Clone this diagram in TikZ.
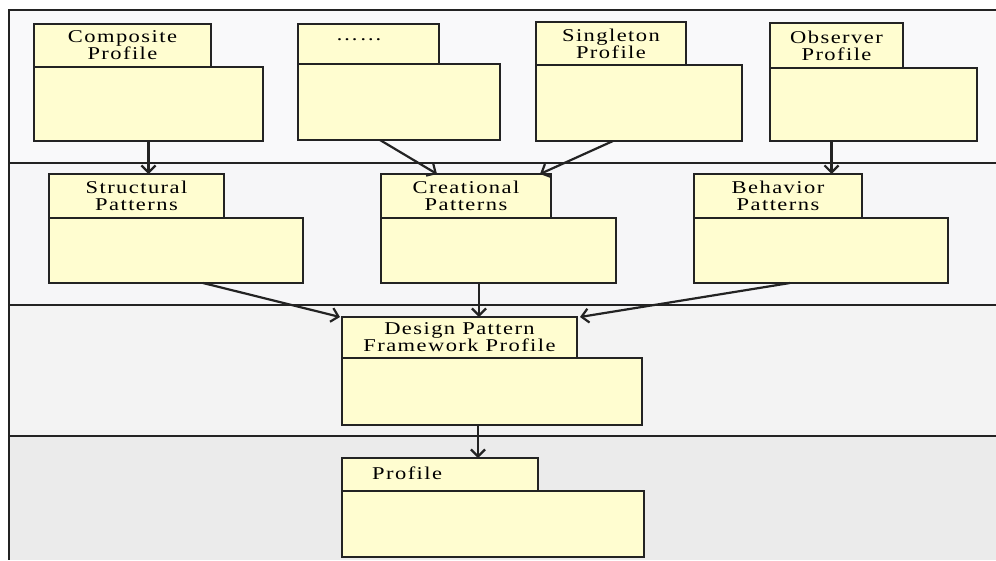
\documentclass[tikz,border=0pt]{standalone}
\usepackage{fontspec}
\setmainfont{Liberation Serif}[FakeStretch=1.25, LetterSpace=8]
\usetikzlibrary{arrows.meta}
\definecolor{pkgfill}{RGB}{255,253,208}
\definecolor{pkgline}{RGB}{35,35,35}
\definecolor{bandA}{RGB}{249,249,250}
\definecolor{bandB}{RGB}{246,246,248}
\definecolor{bandC}{RGB}{243,243,243}
\definecolor{bandD}{RGB}{235,235,235}
\begin{document}
\begin{tikzpicture}[x=1pt,y=-1pt,
  pkg/.style={draw=pkgline, fill=pkgfill, line width=1.6pt, inner sep=0pt, outer sep=0pt,
    anchor=north west, align=center, text=black, font=\fontsize{18}{17}\selectfont},
  pkgtext/.style={inner sep=0pt, text=black, font=\fontsize{18}{17}\selectfont},
  dep/.style={draw=pkgline, line width=2.2pt, -{Straight Barb[length=7pt,width=14pt]}},
  frameline/.style={draw=pkgline, line width=1.5pt}]
\useasboundingbox (0,0) rectangle (996,560);
\fill[white] (0,0) rectangle (996,560);
% swim-lane bands
\fill[bandA] (9,10) rectangle (996,163);
\fill[bandB] (9,163) rectangle (996,305);
\fill[bandC] (9,305) rectangle (996,436);
\fill[bandD] (9,436) rectangle (996,560);
\draw[frameline] (996,10) -- (9,10) -- (9,560);
\draw[frameline] (9,163) -- (996,163);
\draw[frameline] (9,305) -- (996,305);
\draw[frameline] (9,436) -- (996,436);

% top row: concrete pattern profiles
\node[pkg, minimum width=177pt, minimum height=43pt] (comptab) at (34,24) {Composite\\Profile};
\node[pkg, minimum width=229pt, minimum height=74pt] (compbody) at (34,67) {};
\node[pkg, minimum width=141pt, minimum height=40pt] (dotstab) at (298,24) {};
\node[pkg, minimum width=202pt, minimum height=76pt] (dotsbody) at (298,64) {};
\node[pkgtext, anchor=base] (dotstext) at (359,40) {……};
\node[pkg, minimum width=150pt, minimum height=43pt] (singtab) at (536,22) {Singleton\\Profile};
\node[pkg, minimum width=206pt, minimum height=76pt] (singbody) at (536,65) {};
\node[pkg, minimum width=133pt, minimum height=45pt] (obstab) at (770,23) {Observer\\Profile};
\node[pkg, minimum width=207pt, minimum height=73pt] (obsbody) at (770,68) {};

% second row: pattern categories
\node[pkg, minimum width=175pt, minimum height=44pt] (structab) at (49,174) {Structural\\Patterns};
\node[pkg, minimum width=254pt, minimum height=65pt] (strucbody) at (49,218) {};
\node[pkg, minimum width=170pt, minimum height=44pt] (creatab) at (381,174) {Creational\\Patterns};
\node[pkg, minimum width=235pt, minimum height=65pt] (creabody) at (381,218) {};
\node[pkg, minimum width=168pt, minimum height=44pt] (behtab) at (694,174) {Behavior\\Patterns};
\node[pkg, minimum width=254pt, minimum height=65pt] (behbody) at (694,218) {};

% framework profile
\node[pkg, minimum width=235pt, minimum height=41pt] (dpftab) at (342,317) {Design Pattern\\Framework Profile};
\node[pkg, minimum width=300pt, minimum height=67pt] (dpfbody) at (342,358) {};

% base profile
\node[pkg, minimum width=196pt, minimum height=33pt] (proftab) at (342,458) {};
\node[pkg, minimum width=302pt, minimum height=66pt] (profbody) at (342,491) {};
\node[pkgtext, anchor=base west] (proftext) at (372,479) {Profile};

% dependencies
\draw[dep] (compbody.south) -- (compbody.south |- structab.north);
\draw[dep] ([xshift=-19pt]dotsbody.south) -- ([xshift=-29pt]creatab.north);
\draw[dep] ([xshift=-26pt]singbody.south) -- ([xshift=74pt]creatab.north);
\draw[dep] ([xshift=-42pt]obsbody.south) -- ([xshift=-42pt]obsbody.south |- behtab.north);
\draw[dep] ([xshift=27pt]strucbody.south) -- ([xshift=-2pt]dpftab.north west);
\draw[dep] ([xshift=-19.5pt]creabody.south) -- ([xshift=-19.5pt]creabody.south |- dpftab.north);
\draw[dep] ([xshift=-31pt]behbody.south) -- ([xshift=3pt]dpftab.north east);
\draw[dep] ([xshift=-14pt]dpfbody.south) -- ([xshift=-14pt]dpfbody.south |- proftab.north);
\end{tikzpicture}
\end{document}
